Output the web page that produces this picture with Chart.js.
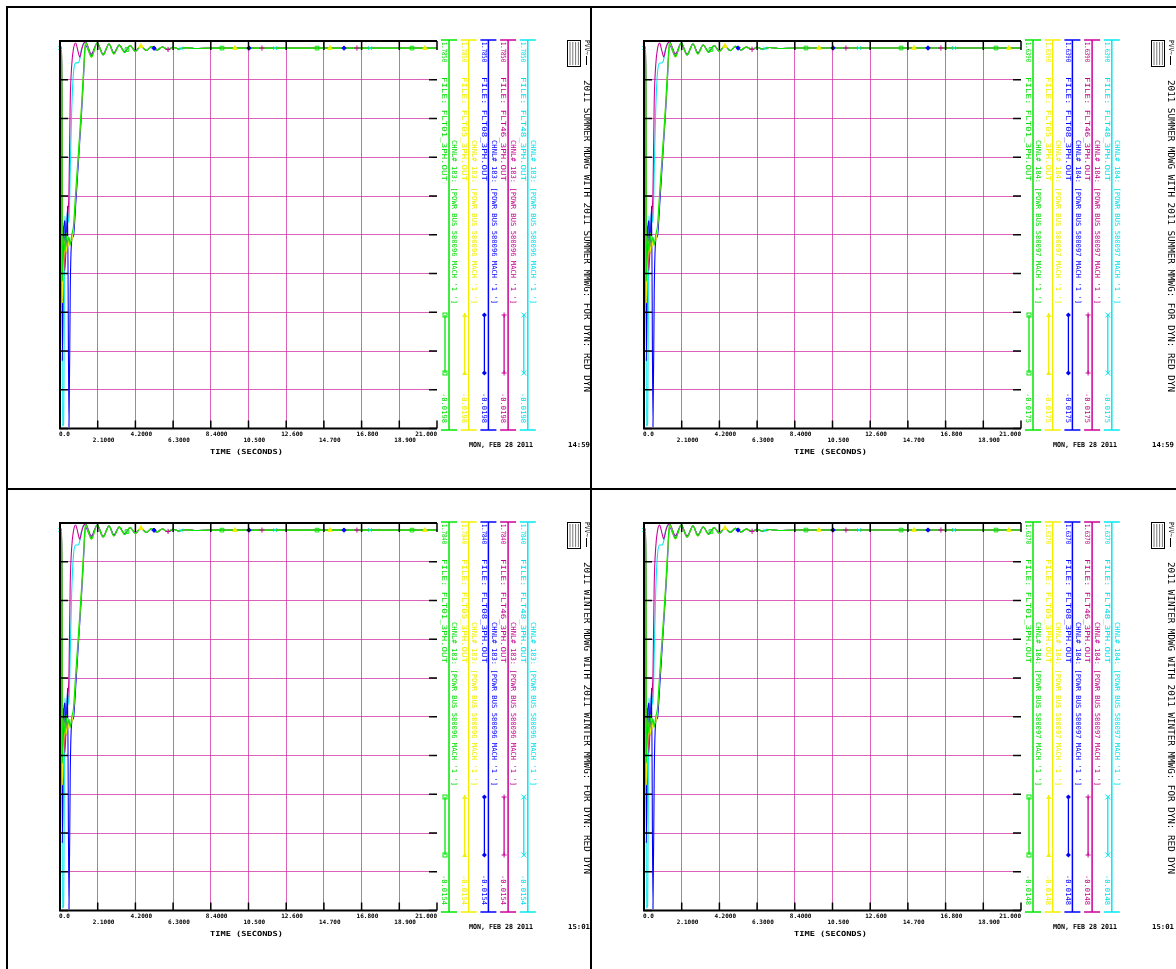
<!DOCTYPE html>
<html><head><meta charset="utf-8">
<script src="https://cdn.jsdelivr.net/npm/chart.js@4/dist/chart.umd.min.js"></script>
<style>
html,body{margin:0;padding:0;background:#fff;width:1176px;height:969px;overflow:hidden;position:relative}
canvas{position:absolute}
.b{position:absolute;background:#000}
</style></head><body>
<canvas id="c0" width="592" height="487" style="left:0px;top:0px"></canvas>
<canvas id="c1" width="592" height="487" style="left:584px;top:0px"></canvas>
<canvas id="c2" width="592" height="487" style="left:0px;top:482px"></canvas>
<canvas id="c3" width="592" height="487" style="left:584px;top:482px"></canvas>
<div class="b" style="left:6px;top:6px;width:1170px;height:2px"></div>
<div class="b" style="left:6px;top:6px;width:2px;height:963px"></div>
<div class="b" style="left:590px;top:6px;width:2px;height:963px"></div>
<div class="b" style="left:6px;top:488px;width:1170px;height:2px"></div>
<script>
// ---------------- DATA ----------------
const time = [0, 0.1, 0.13, 0.2, 0.27, 0.35, 0.42, 0.5, 0.57, 0.65, 0.75, 0.87, 1.0, 1.1, 1.2, 1.3, 1.42, 1.75, 2.07, 2.4, 2.73, 3.0, 3.3, 3.6, 3.9, 4.2, 4.5, 4.8, 5.1, 5.4, 5.7, 6.0, 6.3, 6.6, 7.0, 7.5, 8.5, 10, 13, 16, 21];
const xTicks = [0, 2.1, 4.2, 6.3, 8.4, 10.5, 12.6, 14.7, 16.8, 18.9, 21];
const xTickLabels = ['0.0', '2.1000', '4.2000', '6.3000', '8.4000', '10.500', '12.600', '14.700', '16.800', '18.900', '21.000'];
const fileNames = ['FLT01_3PH.OUT', 'FLT05_3PH.OUT', 'FLT08_3PH.OUT', 'FLT46_3PH.OUT', 'FLT48_3PH.OUT'];
const markerTimes = [[3.73, 9.02, 14.32, 19.61], [4.51, 9.75, 15.04, 20.33], [5.24, 10.53, 15.82], [6.02, 11.25, 16.54], [0, 6.74, 11.98, 17.27]];

// 2011 summer, channel 183 (bus 580096)
const s183Green   = [1.752,1.752,0.667,0.877,0.807,0.891,0.844,0.872,0.835,0.881,0.923,1.077,1.235,1.357,1.487,1.631,1.780,1.710,1.776,1.720,1.771,1.724,1.766,1.731,1.764,1.736,1.762,1.741,1.759,1.743,1.757,1.745,1.756,1.748,1.754,1.750,1.752,1.752,1.752,1.752,1.752];
const s183Yellow  = [1.752,1.752,0.565,0.737,0.854,0.798,0.877,0.826,0.854,0.854,0.909,1.063,1.226,1.347,1.478,1.622,1.776,1.710,1.776,1.720,1.771,1.724,1.766,1.731,1.764,1.736,1.762,1.741,1.759,1.743,1.757,1.745,1.756,1.748,1.754,1.750,1.752,1.752,1.752,1.752,1.752];
const s183Blue    = [1.752,1.752,0.295,0.854,0.947,0.798,1.017,-0.013,0.621,0.854,0.877,1.017,1.189,1.319,1.450,1.599,1.766,1.715,1.776,1.720,1.771,1.727,1.766,1.734,1.764,1.736,1.762,1.741,1.759,1.743,1.757,1.745,1.756,1.748,1.754,1.750,1.752,1.752,1.752,1.752,1.752];
const s183Magenta = [1.752,1.752,0.854,0.923,0.714,0.854,0.956,1.086,1.506,1.669,1.748,1.776,1.738,1.710,1.743,1.771,1.780,1.724,1.776,1.724,1.771,1.729,1.766,1.734,1.764,1.738,1.762,1.741,1.759,1.743,1.757,1.745,1.756,1.748,1.754,1.750,1.752,1.752,1.752,1.752,1.752];
const s183Cyan    = [1.752,1.752,-0.008,0.001,0.970,0.891,0.993,0.937,1.180,1.459,1.636,1.683,1.683,1.701,1.748,1.771,1.780,1.724,1.776,1.724,1.771,1.729,1.766,1.734,1.764,1.738,1.762,1.741,1.759,1.743,1.757,1.745,1.756,1.748,1.754,1.750,1.752,1.752,1.752,1.752,1.752];

// 2011 summer, channel 184 (bus 580097)
const s184Green   = [1.609,1.609,0.613,0.805,0.741,0.818,0.776,0.801,0.767,0.810,0.848,0.989,1.135,1.246,1.365,1.498,1.635,1.571,1.630,1.579,1.626,1.583,1.622,1.590,1.620,1.594,1.618,1.598,1.616,1.601,1.613,1.603,1.612,1.605,1.611,1.607,1.609,1.609,1.609,1.609,1.609];
const s184Yellow  = [1.609,1.609,0.519,0.677,0.784,0.733,0.805,0.758,0.784,0.784,0.835,0.976,1.126,1.237,1.357,1.489,1.630,1.571,1.630,1.579,1.626,1.583,1.622,1.590,1.620,1.594,1.618,1.598,1.616,1.601,1.613,1.603,1.612,1.605,1.611,1.607,1.609,1.609,1.609,1.609,1.609];
const s184Blue    = [1.609,1.609,0.271,0.784,0.870,0.733,0.934,-0.011,0.570,0.784,0.805,0.934,1.092,1.212,1.331,1.468,1.622,1.575,1.630,1.579,1.626,1.586,1.622,1.592,1.620,1.594,1.618,1.598,1.616,1.601,1.613,1.603,1.612,1.605,1.611,1.607,1.609,1.609,1.609,1.609,1.609];
const s184Magenta = [1.609,1.609,0.784,0.848,0.656,0.784,0.878,0.998,1.383,1.532,1.605,1.630,1.596,1.571,1.601,1.626,1.635,1.583,1.630,1.583,1.626,1.588,1.622,1.592,1.620,1.596,1.618,1.598,1.616,1.601,1.613,1.603,1.612,1.605,1.611,1.607,1.609,1.609,1.609,1.609,1.609];
const s184Cyan    = [1.609,1.609,-0.007,0.002,0.891,0.818,0.912,0.861,1.083,1.340,1.502,1.545,1.545,1.562,1.605,1.626,1.635,1.583,1.630,1.583,1.626,1.588,1.622,1.592,1.620,1.596,1.618,1.598,1.616,1.601,1.613,1.603,1.612,1.605,1.611,1.607,1.609,1.609,1.609,1.609,1.609];

// 2011 winter, channel 183 (bus 580096)
const w183Green   = [1.751,1.751,0.668,0.878,0.808,0.892,0.845,0.873,0.836,0.882,0.924,1.077,1.235,1.356,1.486,1.630,1.779,1.709,1.775,1.719,1.770,1.723,1.765,1.730,1.763,1.735,1.761,1.740,1.758,1.742,1.756,1.744,1.755,1.747,1.753,1.749,1.751,1.751,1.751,1.751,1.751];
const w183Yellow  = [1.751,1.751,0.567,0.739,0.855,0.800,0.878,0.828,0.855,0.855,0.911,1.064,1.227,1.347,1.477,1.621,1.775,1.709,1.775,1.719,1.770,1.723,1.765,1.730,1.763,1.735,1.761,1.740,1.758,1.742,1.756,1.744,1.755,1.747,1.753,1.749,1.751,1.751,1.751,1.751,1.751];
const w183Blue    = [1.751,1.751,0.298,0.855,0.948,0.800,1.018,-0.009,0.623,0.855,0.878,1.018,1.190,1.320,1.450,1.598,1.765,1.714,1.775,1.719,1.770,1.726,1.765,1.733,1.763,1.735,1.761,1.740,1.758,1.742,1.756,1.744,1.755,1.747,1.753,1.749,1.751,1.751,1.751,1.751,1.751];
const w183Magenta = [1.751,1.751,0.855,0.924,0.716,0.855,0.957,1.087,1.505,1.668,1.747,1.775,1.737,1.709,1.742,1.770,1.779,1.723,1.775,1.723,1.770,1.728,1.765,1.733,1.763,1.737,1.761,1.740,1.758,1.742,1.756,1.744,1.755,1.747,1.753,1.749,1.751,1.751,1.751,1.751,1.751];
const w183Cyan    = [1.751,1.751,-0.004,0.005,0.971,0.892,0.994,0.939,1.180,1.459,1.635,1.682,1.682,1.700,1.747,1.770,1.779,1.723,1.775,1.723,1.770,1.728,1.765,1.733,1.763,1.737,1.761,1.740,1.758,1.742,1.756,1.744,1.755,1.747,1.753,1.749,1.751,1.751,1.751,1.751,1.751];

// 2011 winter, channel 184 (bus 580097)
const w184Green   = [1.607,1.607,0.614,0.806,0.742,0.819,0.777,0.802,0.768,0.810,0.848,0.989,1.134,1.245,1.364,1.496,1.633,1.569,1.628,1.577,1.624,1.582,1.620,1.588,1.618,1.592,1.616,1.597,1.614,1.599,1.611,1.601,1.610,1.603,1.609,1.605,1.607,1.607,1.607,1.607,1.607];
const w184Yellow  = [1.607,1.607,0.520,0.678,0.785,0.734,0.806,0.759,0.785,0.785,0.836,0.976,1.126,1.236,1.356,1.488,1.628,1.569,1.628,1.577,1.624,1.582,1.620,1.588,1.618,1.592,1.616,1.597,1.614,1.599,1.611,1.601,1.610,1.603,1.609,1.605,1.607,1.607,1.607,1.607,1.607];
const w184Blue    = [1.607,1.607,0.273,0.785,0.870,0.734,0.934,-0.008,0.571,0.785,0.806,0.934,1.091,1.211,1.330,1.467,1.620,1.573,1.628,1.577,1.624,1.584,1.620,1.590,1.618,1.592,1.616,1.597,1.614,1.599,1.611,1.601,1.610,1.603,1.609,1.605,1.607,1.607,1.607,1.607,1.607];
const w184Magenta = [1.607,1.607,0.785,0.848,0.657,0.785,0.878,0.998,1.381,1.530,1.603,1.628,1.594,1.569,1.599,1.624,1.633,1.582,1.628,1.582,1.624,1.586,1.620,1.590,1.618,1.594,1.616,1.597,1.614,1.599,1.611,1.601,1.610,1.603,1.609,1.605,1.607,1.607,1.607,1.607,1.607];
const w184Cyan    = [1.607,1.607,-0.004,0.005,0.891,0.819,0.912,0.861,1.083,1.339,1.500,1.543,1.543,1.560,1.603,1.624,1.633,1.582,1.628,1.582,1.624,1.586,1.620,1.590,1.618,1.594,1.616,1.597,1.614,1.599,1.611,1.601,1.610,1.603,1.609,1.605,1.607,1.607,1.607,1.607,1.607];

const panelTitles = ['2011 SUMMER MDWG WITH 2011 SUMMER MMWG: FOR DYN: RED DYN', '2011 SUMMER MDWG WITH 2011 SUMMER MMWG: FOR DYN: RED DYN', '2011 WINTER MDWG WITH 2011 WINTER MMWG: FOR DYN: RED DYN', '2011 WINTER MDWG WITH 2011 WINTER MMWG: FOR DYN: RED DYN'];
const panelChannels = ['183', '184', '183', '184'];
const panelBuses = ['580096', '580097', '580096', '580097'];
const panelMax = [1.7850, 1.6390, 1.7840, 1.6370];
const panelMin = [-0.0198, -0.0175, -0.0154, -0.0148];
const panelMaxLabels = ['1.7850', '1.6390', '1.7840', '1.6370'];
const panelMinLabels = ['-0.0198', '-0.0175', '-0.0154', '-0.0148'];
const panelClock = ['14:59', '14:59', '15:01', '15:01'];
const panelDate = 'MON, FEB 28 2011';

// ---------------- STYLE ----------------
const lineColors = ['#00e600', '#f0f000', '#0000ff', '#cc0099', '#00e8f0'];
const textColors = ['#00dd00', '#eeee00', '#0000ff', '#c4008f', '#00e0ea'];
const markerShapes = ['rect', 'triangle', 'rectRot', 'cross', 'crossRot'];
const gridColor = 'rgba(205,40,160,0.72)';
const FONT = '"DejaVu Sans Mono", "Liberation Mono", monospace';

function interp(vals, t) {
  for (let k = 0; k < time.length - 1; k++) {
    if (t >= time[k] && t <= time[k + 1]) {
      const f = (t - time[k]) / (time[k + 1] - time[k]);
      return vals[k] + f * (vals[k + 1] - vals[k]);
    }
  }
  return vals[vals.length - 1];
}

function fitText(ctx, str, x, y, len, size, rot, color, weight) {
  ctx.save();
  ctx.font = (weight || 'normal') + ' ' + size + 'px ' + FONT;
  ctx.fillStyle = color;
  ctx.textBaseline = 'middle';
  ctx.textAlign = 'left';
  const w = ctx.measureText(str).width;
  ctx.translate(x, y);
  if (rot) ctx.rotate(Math.PI / 2);
  ctx.scale(len / w, 1);
  ctx.fillText(str, 0, 0);
  ctx.restore();
}

function seg(ctx, x1, y1, x2, y2) {
  ctx.beginPath(); ctx.moveTo(x1, y1); ctx.lineTo(x2, y2); ctx.stroke();
}

function marker(ctx, shape, x, y, color) {
  ctx.save();
  ctx.strokeStyle = color; ctx.fillStyle = color; ctx.lineWidth = 1;
  const r = 2.5;
  ctx.beginPath();
  if (shape === 'rect') { ctx.strokeRect(x - 2, y - 2, 4, 4); }
  else if (shape === 'triangle') { ctx.moveTo(x, y - r); ctx.lineTo(x + r, y + r * 0.8); ctx.lineTo(x - r, y + r * 0.8); ctx.closePath(); ctx.fill(); }
  else if (shape === 'rectRot') { ctx.moveTo(x, y - r); ctx.lineTo(x + r, y); ctx.lineTo(x, y + r); ctx.lineTo(x - r, y); ctx.closePath(); ctx.fill(); }
  else if (shape === 'cross') { seg(ctx, x - r, y, x + r, y); seg(ctx, x, y - r, x, y + r); }
  else { seg(ctx, x - r, y - r, x + r, y + r); seg(ctx, x - r, y + r, x + r, y - r); }
  ctx.restore();
}

function framePlugin(pi) {
  return {
    id: 'frame' + pi,
    afterDraw(chart) {
      const ctx = chart.ctx;
      const ca = chart.chartArea;
      const xs = chart.scales.x, ys = chart.scales.y;
      ctx.save();
      ctx.strokeStyle = '#000';
      ctx.lineWidth = 2;
      seg(ctx, ca.left, ca.top, ca.left, ca.bottom);
      seg(ctx, ca.left - 1, ca.top, ca.right, ca.top);
      seg(ctx, ca.left - 1, ca.bottom, ca.right, ca.bottom);
      ctx.lineWidth = 1.5;
      xTicks.forEach((v, i) => {
        const x = xs.getPixelForValue(v);
        if (i > 0) { seg(ctx, x, ca.top, x, ca.top + 9); seg(ctx, x, ca.bottom, x, ca.bottom - 8); }
      });
      ys.ticks.forEach((tk) => {
        const y = ys.getPixelForValue(tk.value);
        seg(ctx, ca.left, y, ca.left + 8, y);
        seg(ctx, ca.right - 8, y, ca.right, y);
      });
      // x tick labels (staggered)
      ctx.font = 'bold 6px ' + FONT;
      ctx.fillStyle = '#000';
      ctx.textBaseline = 'middle';
      xTicks.forEach((v, i) => {
        const x = xs.getPixelForValue(v);
        const y = (i % 2 === 0) ? ca.bottom + 5.5 : ca.bottom + 11.5;
        if (i === 0) { ctx.textAlign = 'left'; ctx.fillText(xTickLabels[i], x - 1, y); }
        else if (i === xTicks.length - 1) { ctx.textAlign = 'right'; ctx.fillText(xTickLabels[i], x, y); }
        else { ctx.textAlign = 'left'; ctx.fillText(xTickLabels[i], x - 5, y); }
      });
      fitText(ctx, 'TIME (SECONDS)', 210, ca.bottom + 23.5, 73, 7, false, '#000', 'bold');
      // channel axes / legend
      lineColors.forEach((c, i) => {
        const ax = ca.right + 12 + i * 19.7;
        const tc = textColors[i];
        ctx.strokeStyle = c;
        ctx.lineWidth = 1.5;
        seg(ctx, ax, ca.top - 1, ax, ca.bottom + 1.5);
        seg(ctx, ax - 8, ca.top - 1, ax + 8, ca.top - 1);
        seg(ctx, ax - 8, ca.bottom + 1.5, ax + 8, ca.bottom + 1.5);
        fitText(ctx, panelMaxLabels[pi], ax - 5, ca.top + 1, 20, 7, true, tc);
        fitText(ctx, panelMinLabels[pi], ax - 5, ca.bottom - 35.5, 30, 7, true, tc);
        fitText(ctx, 'FILE: ' + fileNames[i], ax - 5, ca.top + 36, 104, 7, true, tc);
        fitText(ctx, 'CHNL# ' + panelChannels[pi] + ": [POWR BUS " + panelBuses[pi] + " MACH '1 ']", ax + 5, ca.top + 99, 164, 7, true, tc);
        ctx.strokeStyle = c;
        ctx.lineWidth = 1.3;
        seg(ctx, ax - 4, ca.top + 274, ax - 4, ca.top + 332);
        marker(ctx, markerShapes[i], ax - 4, ca.top + 274, c);
        marker(ctx, markerShapes[i], ax - 4, ca.top + 332, c);
      });
      // title, logo, date
      fitText(ctx, panelTitles[pi], 586.5, ca.top + 39, 312, 8, true, '#000');
      ctx.strokeStyle = '#000'; ctx.lineWidth = 1;
      ctx.strokeRect(567.5, 40.5, 13, 26);
      ctx.strokeStyle = '#777';
      for (let k = 0; k < 4; k++) seg(ctx, 570 + k * 2.8, 42, 570 + k * 2.8, 65);
      fitText(ctx, 'PVV~', 586.5, 40, 15, 7, true, '#000');
      ctx.strokeStyle = '#000';
      seg(ctx, 586.5, 56, 586.5, 65);
      fitText(ctx, panelDate, 469, ca.bottom + 16.5, 64, 7, false, '#000', 'bold');
      fitText(ctx, panelClock[pi], 568, ca.bottom + 16.5, 22, 7, false, '#000', 'bold');
      ctx.restore();
    }
  };
}

function makePanel(pi, series) {
  const datasets = [];
  series.forEach((vals, i) => {
    datasets.push({
      data: time.map((t, k) => ({ x: t, y: vals[k] })),
      borderColor: lineColors[i],
      borderWidth: 1.1,
      pointRadius: 0,
      fill: false,
      cubicInterpolationMode: 'monotone'
    });
  });
  series.forEach((vals, i) => {
    datasets.push({
      data: markerTimes[i].map((t) => ({ x: t, y: interp(vals, t) })),
      showLine: false,
      pointStyle: markerShapes[i],
      pointRadius: markerShapes[i] === 'rectRot' ? 2.2 : 2.6,
      borderColor: lineColors[i],
      backgroundColor: markerShapes[i] === 'rect' ? 'rgba(0,0,0,0)' : lineColors[i],
      borderWidth: 1,
      clip: false,
      order: -1
    });
  });
  const yMin = panelMin[pi], yMax = panelMax[pi];
  new Chart(document.getElementById('c' + pi).getContext('2d'), {
    type: 'line',
    data: { datasets },
    options: {
      responsive: false,
      animation: false,
      devicePixelRatio: 1,
      events: [],
      layout: { padding: { left: 60, top: 41, right: 155, bottom: 58.5 } },
      plugins: { legend: { display: false }, tooltip: { enabled: false } },
      scales: {
        x: {
          type: 'linear', min: 0, max: 21,
          afterBuildTicks: (s) => { s.ticks = xTicks.map((v) => ({ value: v })); },
          afterFit: (s) => { s.height = 0; },
          ticks: { display: false },
          border: { display: false },
          grid: { drawTicks: false, lineWidth: 1, color: (c) => (c.index === 0 || c.index === xTicks.length - 1) ? 'rgba(0,0,0,0)' : gridColor }
        },
        y: {
          type: 'linear', min: yMin, max: yMax,
          afterBuildTicks: (s) => { const a = []; for (let k = 0; k <= 10; k++) a.push({ value: yMin + k * (yMax - yMin) / 10 }); s.ticks = a; },
          afterFit: (s) => { s.width = 0; },
          ticks: { display: false },
          border: { display: false },
          grid: { drawTicks: false, lineWidth: 1, color: (c) => (c.index === 0 || c.index === 10) ? 'rgba(0,0,0,0)' : gridColor }
        }
      }
    },
    plugins: [framePlugin(pi)]
  });
}

makePanel(0, [s183Green, s183Yellow, s183Blue, s183Magenta, s183Cyan]);
makePanel(1, [s184Green, s184Yellow, s184Blue, s184Magenta, s184Cyan]);
makePanel(2, [w183Green, w183Yellow, w183Blue, w183Magenta, w183Cyan]);
makePanel(3, [w184Green, w184Yellow, w184Blue, w184Magenta, w184Cyan]);
</script>
</body></html>
